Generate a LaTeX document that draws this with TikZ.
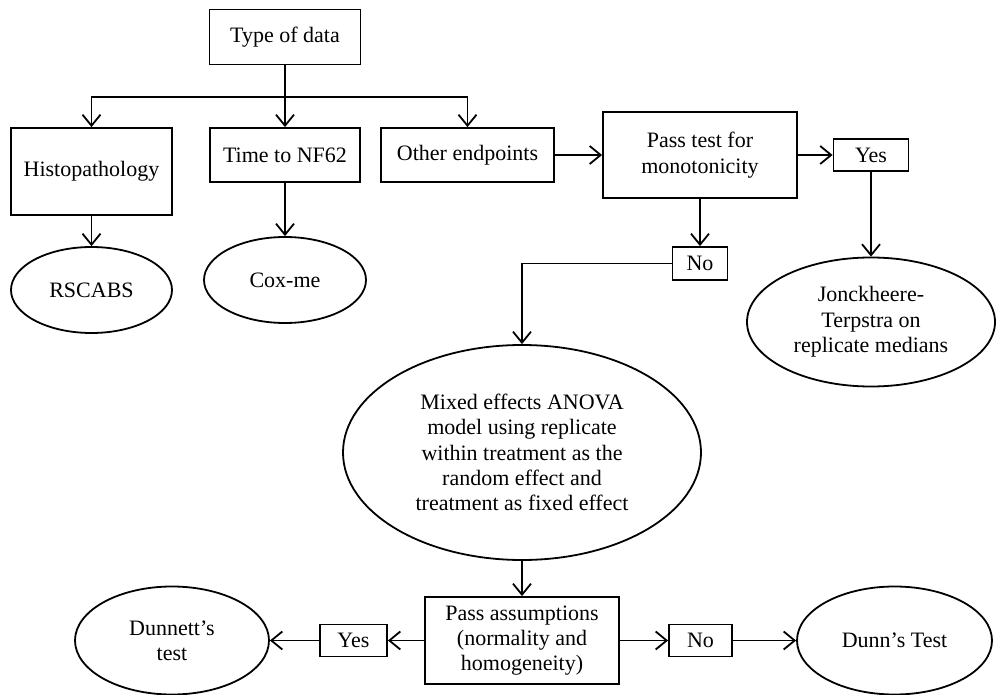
\documentclass[tikz,border=0pt]{standalone}
\usepackage{fontspec}
\setmainfont{Liberation Serif}
\usepackage{tikz}
\usetikzlibrary{arrows.meta,shapes.geometric}
\tikzset{
    mybox/.style={rectangle,draw=black,line width=0.9pt,inner sep=0pt,align=center,font=\fontsize{11}{12.7}\selectfont},
    myellipse/.style={ellipse,draw=black,line width=0.9pt,inner sep=0pt,align=center,font=\fontsize{11}{12.7}\selectfont},
    myarrow/.style={-{Straight Barb[length=5.5pt,width=9pt]}, line width=0.9pt},
    myline/.style={line width=0.9pt}
}

\begin{document}
\begin{tikzpicture}[x=0.5pt,y=-0.5pt]
    \useasboundingbox (0,0) rectangle (996,695);
    \draw (285,37) node[mybox,minimum width=75.5pt,minimum height=27.5pt] (type) {Type of data};
    \coordinate (split) at (285,97);
    \draw (91.5,171.5) node[mybox,minimum width=80.5pt,minimum height=43.5pt] (histo) {Histopathology};
    \draw (285,155) node[mybox,minimum width=75pt,minimum height=27pt] (time) {Time to NF62};
    \draw (467.5,155) node[mybox,minimum width=86.5pt,minimum height=27pt] (other) {Other endpoints};
    \draw[myline] (type) -- (split);
    \draw[myarrow] (split) -| (histo);
    \draw[myarrow] (split) -- (time);
    \draw[myarrow] (split) -| (other);
    \draw (91.5,290) node[myellipse,minimum width=80.5pt,minimum height=43pt] (rscabs) {RSCABS};
    \draw[myarrow] (histo) -- (rscabs);
    \draw (285,280) node[myellipse,minimum width=81pt,minimum height=43pt] (coxme) {Cox-me};
    \draw[myarrow] (time) -- (coxme);
    \draw (700,155) node[mybox,minimum width=97pt,minimum height=43pt] (passmono) {Pass test for\\monotonicity};
    \draw[myarrow] (other) -- (passmono);
    \draw (871,155) node[mybox,minimum width=37.5pt,minimum height=16pt] (yesmono) {Yes};
    \draw[myarrow] (passmono) -- (yesmono);
    \draw (871,322) node[myellipse,minimum width=124pt,minimum height=64.5pt] (jonck) {Jonckheere-\\Terpstra on\\replicate medians};
    \draw[myarrow] (yesmono) -- (jonck);
    \draw (700,263.5) node[mybox,minimum width=27.5pt,minimum height=16.5pt] (nomono) {No};
    \draw[myarrow] (passmono) -- (nomono);
    \draw (522,452.5) node[myellipse,minimum width=179pt,minimum height=107.5pt] (mixed) {Mixed effects ANOVA\\model using replicate\\within treatment as the\\random effect and\\treatment as fixed effect};
    \draw[myarrow] (nomono) -| (mixed);
    \draw (522,640.5) node[mybox,minimum width=97pt,minimum height=43.5pt] (passassume) {Pass assumptions\\(normality and\\homogeneity)};
    \draw[myarrow] (mixed) -- (passassume);
    \draw (353.5,640.5) node[mybox,minimum width=33.5pt,minimum height=16pt] (yesassume) {Yes};
    \draw[myarrow] (passassume) -- (yesassume);
    \draw (172,640.5) node[myellipse,minimum width=97pt,minimum height=54pt] (dunnett) {Dunnett’s\\test};
    \draw[myarrow] (yesassume) -- (dunnett);
    \draw (700.5,640.5) node[mybox,minimum width=31.5pt,minimum height=16pt] (noassume) {No};
    \draw[myarrow] (passassume) -- (noassume);
    \draw (894.5,640.5) node[myellipse,minimum width=97.5pt,minimum height=54pt] (dunn) {Dunn’s Test};
    \draw[myarrow] (noassume) -- (dunn);
\end{tikzpicture}
\end{document}
